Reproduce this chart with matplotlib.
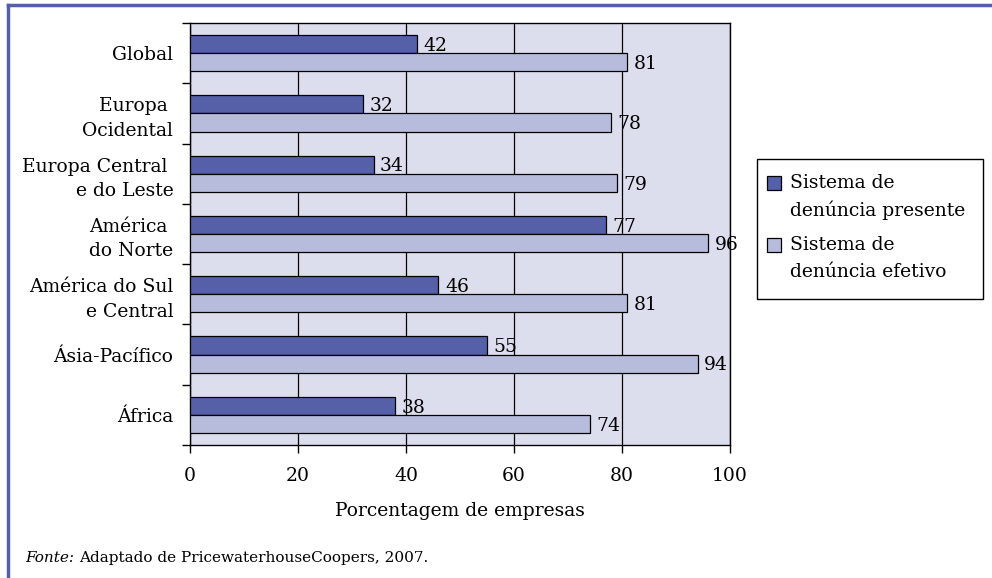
import matplotlib
matplotlib.use("Agg")
import matplotlib.pyplot as plt
import numpy as np
from matplotlib.patches import Rectangle
from matplotlib.lines import Line2D

categories = ["Global", "Europa \nOcidental", "Europa Central \ne do Leste", "América \ndo Norte",
              "América do Sul\ne Central", "Ásia-Pacífico", "África"]
presente = [42, 32, 34, 77, 46, 55, 38]
efetivo = [81, 78, 79, 96, 81, 94, 74]
series_labels = ["Sistema de\ndenúncia presente", "Sistema de\ndenúncia efetivo"]
xticks = [0, 20, 40, 60, 80, 100]
xlabel = "Porcentagem de empresas"

plt.rcParams['font.family'] = ['DejaVu Serif']
FS = 13.5

dark = "#5560a8"
light = "#b8bcdc"
bg = "#dcdeee"

W, H = 992, 578
fig = plt.figure(figsize=(W/100, H/100), dpi=100)
ax = fig.add_axes([190/W, 1-445/H, 540/W, 422/H])
ax.set_facecolor(bg)

def fx(px):
    return px / W

def fy(py):
    return 1 - py / H

n = len(categories)
y = np.arange(n)
h = 0.3
ax.barh(y - h/2, presente, height=h, color=dark, edgecolor="black", linewidth=0.9, zorder=3)
ax.barh(y + h/2, efetivo, height=h, color=light, edgecolor="black", linewidth=0.9, zorder=3)
for i in range(n):
    ax.text(presente[i] + 1.2, y[i] - h/2 + 0.03, str(presente[i]), va="center", ha="left", fontsize=FS, zorder=2.5)
    ax.text(efetivo[i] + 1.2, y[i] + h/2 + 0.03, str(efetivo[i]), va="center", ha="left", fontsize=FS, zorder=2.5)

ax.set_ylim(n - 0.5, -0.5)
ax.set_xlim(0, 100)
ax.set_yticks(y)
ax.set_yticklabels(categories, fontsize=FS, multialignment="right", linespacing=1.45)
ax.tick_params(axis="y", which="major", length=0, pad=12)
ax.set_yticks(np.arange(-0.5, n, 1), minor=True)
ax.tick_params(axis="y", which="minor", length=6, direction="out", width=1)
ax.set_xticks(xticks)
ax.set_xticklabels([str(t) for t in xticks], fontsize=FS)
ax.tick_params(axis="x", length=6, direction="out", width=1, pad=10)
ax.grid(axis="x", color="black", linewidth=0.9, zorder=1)
ax.set_axisbelow(True)
for s in ax.spines.values():
    s.set_color("black")
    s.set_linewidth(1)
ax.set_xlabel(xlabel, fontsize=FS, labelpad=12)

# legend (manual)
fig.add_artist(Rectangle((fx(757), fy(299)), fx(983) - fx(757), fy(159) - fy(299),
                         transform=fig.transFigure, facecolor="white", edgecolor="black", linewidth=1))
leg_colors = [dark, light]
leg_y = [183, 245]
for lab, col, ly in zip(series_labels, leg_colors, leg_y):
    fig.add_artist(Rectangle((fx(767), fy(ly + 7)), fx(14), 14/H, transform=fig.transFigure,
                             facecolor=col, edgecolor="black", linewidth=0.9))
    for k, line in enumerate(lab.split("\n")):
        fig.text(fx(790), fy(ly + k*27), line, fontsize=FS, va="center", ha="left")

t1 = fig.text(fx(25), fy(558), "Fonte:", fontsize=11, style="italic", va="center")
fig.canvas.draw()
bb = t1.get_window_extent()
fig.text((bb.x1 + 5)/W, fy(558), "Adaptado de PricewaterhouseCoopers, 2007.", fontsize=11, va="center")

# frame lines
fig.add_artist(Line2D([fx(8), 1], [fy(5), fy(5)], color=dark, linewidth=2.5, transform=fig.transFigure))
fig.add_artist(Line2D([fx(8), fx(8)], [0, fy(5)], color=dark, linewidth=2.5, transform=fig.transFigure))

fig.savefig("out.png", dpi=100)
